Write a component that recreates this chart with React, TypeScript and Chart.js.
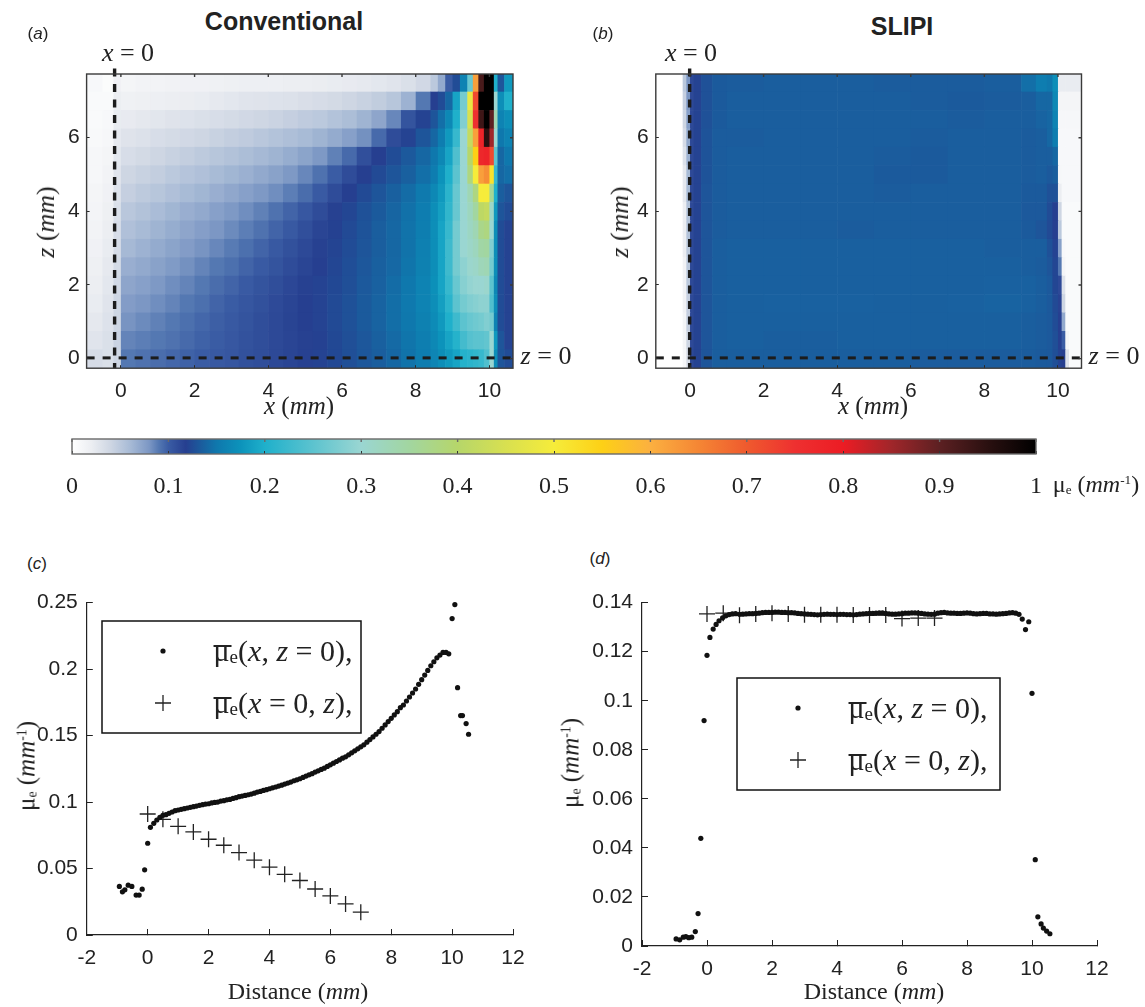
import React, { useEffect, useRef } from "react";
import { Chart, registerables } from "chart.js";

Chart.register(...registerables);

// ---------- colour scale ----------
const colorLevels = [0, 0.02, 0.04, 0.06, 0.08, 0.09, 0.1, 0.118, 0.135, 0.15, 0.175, 0.2, 0.25, 0.3, 0.35, 0.4, 0.45, 0.5, 0.55, 0.6, 0.65, 0.7, 0.75, 0.8, 0.85, 0.9, 0.95, 1];
const colorHexes = ["#ffffff", "#eceef2", "#ced6e3", "#a8bbd6", "#7c97c4", "#5478b2", "#3a5ca4", "#263f90", "#1a5e9e", "#0f78ad", "#0c93bb", "#1fb0cb", "#5cc3cf", "#9ad6d2", "#a2d6a0", "#b6d66a", "#d8e050", "#f6ec3a", "#fdd016", "#fbb040", "#f58634", "#ef5a2e", "#ee3030", "#ec1c24", "#a0262a", "#5c2022", "#2a1010", "#000000"];
const colorbarTicks = [0, 0.1, 0.2, 0.3, 0.4, 0.5, 0.6, 0.7, 0.8, 0.9, 1];

// ---------- heat maps ----------
const xTicksMap = [0, 2, 4, 6, 8, 10];
const zTicksMap = [0, 2, 4, 6];
const zCenters = [7.5, 7, 6.5, 6, 5.5, 5, 4.5, 4, 3.5, 3, 2.5, 2, 1.5, 1, 0.5, 0];

const heatAEdges = [-0.93, -0.5, -0.2, 0, 0.4, 0.8, 1.2, 1.6, 2, 2.4, 2.8, 3.2, 3.6, 4, 4.4, 4.8, 5.2, 5.6, 6, 6.4, 6.8, 7.2, 7.6, 8, 8.4, 8.6, 8.8, 9, 9.2, 9.4, 9.55, 9.7, 9.85, 10, 10.12, 10.22, 10.4, 10.64];
const heatARows = [
  [.008, .004, .016, .012, .014, .014, .015, .016, .016, .017, .018, .019, .019, .019, .02, .02, .021, .022, .023, .024, .026, .028, .032, .038, .05, .07, .1, .125, .16, .26, .62, .92, 1, 1, .2, .13, .18],
  [.006, .006, .02, .017, .018, .019, .02, .021, .022, .024, .026, .028, .029, .03, .031, .033, .035, .037, .04, .043, .047, .052, .065, .09, .118, .125, .14, .19, .27, .48, .72, 1, 1, 1, .3, .17, .2],
  [.006, .008, .022, .023, .025, .027, .029, .03, .032, .034, .036, .038, .04, .042, .045, .048, .05, .054, .058, .064, .072, .085, .105, .12, .13, .145, .165, .2, .28, .45, .75, .93, 1, .9, .33, .16, .17],
  [.007, .01, .024, .029, .031, .034, .036, .038, .04, .043, .046, .048, .051, .054, .057, .06, .064, .069, .075, .082, .095, .11, .12, .13, .14, .155, .18, .22, .3, .42, .62, .78, .95, .85, .3, .15, .16],
  [.009, .012, .026, .034, .037, .04, .043, .046, .049, .052, .055, .058, .061, .064, .068, .073, .079, .087, .095, .108, .118, .125, .132, .14, .15, .165, .19, .24, .3, .4, .55, .77, .78, .72, .25, .14, .15],
  [.01, .014, .028, .04, .043, .046, .05, .053, .056, .06, .063, .066, .07, .074, .079, .085, .092, .1, .11, .118, .124, .13, .136, .145, .155, .175, .2, .25, .3, .38, .5, .62, .64, .52, .22, .14, .145],
  [.012, .016, .03, .045, .049, .052, .056, .06, .063, .067, .071, .075, .079, .083, .088, .094, .101, .11, .118, .124, .13, .136, .143, .152, .165, .18, .21, .26, .3, .33, .38, .5, .5, .36, .2, .135, .13],
  [.013, .018, .032, .051, .055, .059, .063, .067, .07, .075, .079, .083, .087, .092, .097, .103, .11, .117, .122, .128, .133, .139, .146, .155, .17, .185, .215, .26, .3, .32, .35, .41, .42, .31, .18, .13, .125],
  [.014, .02, .034, .056, .06, .064, .068, .072, .076, .08, .084, .088, .092, .097, .102, .108, .114, .119, .124, .129, .135, .14, .147, .156, .17, .19, .22, .27, .3, .315, .33, .37, .38, .3, .17, .125, .12],
  [.016, .022, .035, .061, .065, .069, .073, .077, .081, .085, .089, .093, .097, .102, .107, .112, .117, .121, .125, .13, .135, .14, .147, .157, .17, .19, .225, .27, .3, .31, .32, .345, .35, .28, .17, .125, .12],
  [.018, .024, .036, .067, .07, .074, .078, .082, .086, .09, .093, .097, .101, .105, .11, .114, .118, .122, .126, .131, .136, .141, .148, .158, .17, .19, .225, .27, .29, .305, .31, .325, .33, .27, .17, .125, .12],
  [.02, .026, .038, .072, .075, .079, .083, .086, .09, .094, .097, .101, .105, .109, .113, .117, .12, .123, .127, .132, .137, .143, .15, .16, .172, .19, .22, .26, .285, .295, .3, .3, .305, .25, .165, .125, .12],
  [.022, .028, .04, .077, .08, .083, .086, .09, .093, .097, .1, .104, .107, .111, .114, .118, .12, .124, .128, .133, .138, .144, .151, .16, .17, .185, .21, .25, .27, .28, .285, .29, .29, .24, .17, .125, .12],
  [.025, .03, .04, .081, .084, .087, .09, .093, .096, .099, .102, .105, .109, .112, .115, .118, .12, .124, .128, .133, .138, .144, .15, .158, .168, .18, .2, .225, .25, .26, .265, .27, .28, .27, .16, .125, .12],
  [.028, .032, .042, .086, .088, .09, .092, .095, .098, .1, .103, .106, .109, .112, .114, .117, .119, .123, .127, .131, .136, .142, .148, .156, .165, .175, .19, .205, .23, .245, .25, .25, .255, .3, .18, .13, .12],
  [.035, .032, .04, .09, .092, .094, .096, .098, .1, .102, .104, .107, .109, .112, .114, .117, .12, .123, .127, .131, .135, .14, .147, .155, .162, .17, .18, .19, .205, .21, .215, .22, .24, .3, .17, .13, .125],
];

const heatBEdges = [-0.93, -0.2, -0.1, 0, 0.1, 0.3, 0.6, 1, 2, 3, 4, 5, 6, 7, 8, 9, 9.4, 9.7, 9.85, 10, 10.1, 10.2, 10.3, 10.64];
const heatBRows = [
  [0, .05, .08, .112, .12, .128, .133, .134, .135, .135, .135, .134, .134, .134, .135, .145, .155, .15, .17, .022, .022, .022, .022],
  [0, .045, .08, .112, .12, .128, .133, .135, .135, .135, .135, .135, .134, .133, .134, .135, .14, .14, .165, .012, .012, .012, .012],
  [0, .04, .075, .112, .12, .128, .133, .135, .135, .135, .135, .135, .135, .134, .135, .135, .138, .14, .16, .01, .01, .01, .01],
  [0, .035, .07, .112, .12, .129, .134, .134, .135, .135, .135, .135, .134, .135, .135, .134, .135, .14, .155, .008, .008, .008, .008],
  [0, .03, .065, .112, .12, .129, .134, .135, .135, .135, .135, .134, .133, .135, .135, .134, .135, .135, .14, .008, .008, .008, .008],
  [0, .025, .06, .112, .12, .129, .134, .135, .135, .135, .135, .133, .133, .135, .135, .134, .135, .132, .135, .01, .008, .008, .008],
  [0, .025, .06, .112, .12, .13, .134, .135, .135, .135, .135, .134, .135, .135, .135, .133, .133, .128, .128, .02, .008, .008, .008],
  [0, .02, .055, .112, .12, .13, .134, .135, .135, .135, .135, .135, .135, .135, .135, .132, .132, .125, .118, .04, .006, .006, .006],
  [0, .02, .055, .112, .12, .13, .134, .135, .135, .135, .134, .135, .135, .135, .135, .133, .13, .124, .118, .05, .006, .006, .006],
  [0, .02, .05, .112, .12, .13, .135, .136, .136, .136, .136, .136, .136, .136, .135, .135, .135, .128, .12, .075, .008, .006, .006],
  [0, .015, .05, .112, .12, .13, .135, .136, .136, .136, .136, .136, .136, .136, .136, .135, .134, .13, .122, .09, .012, .006, .006],
  [0, .015, .05, .112, .12, .13, .135, .136, .136, .136, .136, .136, .136, .136, .137, .137, .135, .132, .122, .112, .03, .006, .006],
  [0, .015, .045, .112, .12, .13, .135, .136, .137, .137, .137, .136, .136, .137, .138, .137, .135, .132, .124, .116, .04, .006, .006],
  [0, .012, .045, .112, .12, .13, .135, .136, .136, .136, .136, .136, .136, .136, .136, .135, .134, .132, .125, .118, .07, .006, .006],
  [0, .012, .04, .112, .12, .13, .135, .136, .135, .135, .136, .136, .136, .136, .136, .135, .134, .132, .127, .118, .1, .012, .006],
  [0, .01, .035, .112, .12, .13, .135, .135, .135, .135, .135, .135, .134, .134, .134, .134, .133, .132, .127, .12, .118, .03, .006],
];

const dashXa = [-0.17, -0.17];
const dashXb = [-0.01, -0.01];
const dashZSpan = [7.88, -0.26];
const dashZx = [-0.93, 10.64];
const dashZy = [0.02, 0.02];

// ---------- panel (c) ----------
const xTicksPlot = [-2, 0, 2, 4, 6, 8, 10, 12];
const yTicksC = [0, 0.05, 0.1, 0.15, 0.2, 0.25];
const yTicksD = [0, 0.02, 0.04, 0.06, 0.08, 0.1, 0.12, 0.14];

const cDotX = [-0.93, -0.83, -0.75, -0.64, -0.52, -0.38, -0.28, -0.18, -0.1, 0, 0.09, 0.2, 0.3, 0.4, 0.5, 0.6, 0.7, 0.8, 0.9, 1, 1.1, 1.2, 1.3, 1.4, 1.5, 1.6, 1.7, 1.8, 1.9, 2, 2.1, 2.2, 2.3, 2.4, 2.5, 2.6, 2.7, 2.8, 2.9, 3, 3.1, 3.2, 3.3, 3.4, 3.5, 3.6, 3.7, 3.8, 3.9, 4, 4.1, 4.2, 4.3, 4.4, 4.5, 4.6, 4.7, 4.8, 4.9, 5, 5.1, 5.2, 5.3, 5.4, 5.5, 5.6, 5.7, 5.8, 5.9, 6, 6.1, 6.2, 6.3, 6.4, 6.5, 6.6, 6.7, 6.8, 6.9, 7, 7.1, 7.2, 7.3, 7.4, 7.5, 7.6, 7.7, 7.8, 7.9, 8, 8.1, 8.2, 8.3, 8.4, 8.5, 8.6, 8.7, 8.8, 8.9, 9, 9.1, 9.2, 9.3, 9.4, 9.5, 9.6, 9.7, 9.8, 9.89, 10, 10.09, 10.18, 10.28, 10.34, 10.46, 10.54];
const cDotY = [.0365, .0325, .034, .0375, .0365, .030, .030, .0345, .049, .069, .081, .084, .0865, .0885, .09, .0905, .0915, .0925, .0935, .094, .0945, .095, .0955, .096, .0965, .097, .0975, .098, .0985, .0987, .0993, .0997, .1, .1007, .101, .1017, .102, .1027, .1033, .104, .1045, .105, .1055, .106, .1067, .1075, .108, .1087, .1093, .11, .1107, .1113, .112, .1127, .1135, .1143, .115, .116, .1167, .1175, .1185, .1195, .1205, .1213, .1225, .1235, .1245, .1255, .1268, .128, .1292, .1305, .1317, .133, .134, .1355, .137, .1385, .14, .1415, .143, .145, .147, .149, .151, .153, .1555, .158, .1605, .163, .1655, .168, .171, .173, .176, .179, .182, .185, .1885, .192, .1955, .199, .2025, .2055, .2085, .2105, .2125, .2125, .2115, .238, .2485, .186, .165, .165, .159, .151];
const cCrossX = [0, 0.5, 1, 1.5, 2, 2.5, 3, 3.5, 4, 4.5, 5, 5.5, 6, 6.5, 7];
const cCrossY = [.091, .087, .0817, .0775, .072, .0675, .062, .0563, .051, .0456, .041, .0346, .0294, .0234, .0172];

// ---------- panel (d) ----------
const dDotX = [-0.95, -0.84, -0.73, -0.65, -0.56, -0.47, -0.36, -0.275, -0.19, -0.09, 0, 0.09, 0.19, 0.28, 0.37, 0.48, 0.58, 0.68, 0.78, 0.88, 1, 1.1, 1.2, 1.3, 1.4, 1.5, 1.6, 1.7, 1.8, 1.9, 2, 2.1, 2.2, 2.3, 2.4, 2.5, 2.6, 2.7, 2.8, 2.9, 3, 3.1, 3.2, 3.3, 3.4, 3.5, 3.6, 3.7, 3.8, 3.9, 4, 4.1, 4.2, 4.3, 4.4, 4.5, 4.6, 4.7, 4.8, 4.9, 5, 5.1, 5.2, 5.3, 5.4, 5.5, 5.6, 5.7, 5.8, 5.9, 6, 6.1, 6.2, 6.3, 6.4, 6.5, 6.6, 6.7, 6.8, 6.9, 7, 7.1, 7.2, 7.3, 7.4, 7.5, 7.6, 7.7, 7.8, 7.9, 8, 8.1, 8.2, 8.3, 8.4, 8.5, 8.6, 8.7, 8.8, 8.9, 9, 9.1, 9.2, 9.3, 9.4, 9.5, 9.6, 9.7, 9.8, 9.9, 10, 10.1, 10.18, 10.28, 10.35, 10.45, 10.55];
const dDotY = [.0029, .0025, .0036, .0038, .0034, .0036, .0059, .0132, .0439, .0919, .1185, .1258, .1292, .1311, .1326, .1338, .1346, .1351, .1354, .1355, .1352, .1353, .1354, .1355, .1355, .1356, .1357, .1359, .136, .136, .136, .1361, .1361, .136, .136, .1359, .1359, .1358, .1356, .1355, .1354, .1353, .1352, .1351, .135, .1351, .1352, .1353, .1352, .1352, .1351, .1352, .1352, .1351, .1351, .135, .1351, .1353, .1354, .1355, .1356, .1356, .1357, .1358, .1358, .1356, .1354, .1353, .1353, .1354, .1355, .1357, .1357, .1358, .1358, .1357, .1356, .1354, .1353, .1352, .1353, .1357, .1359, .136, .1358, .1357, .1357, .1356, .1356, .1357, .1358, .1357, .1355, .1354, .1355, .1356, .1356, .1354, .1354, .1353, .1354, .1355, .1356, .1358, .1359, .1357, .1352, .1333, .129, .1322, .103, .0352, .0119, .009, .0073, .0061, .005];
const dCrossX = [0, 0.5, 1, 1.5, 2, 2.5, 3, 3.5, 4, 4.5, 5, 5.5, 6, 6.5, 7];
const dCrossY = [.1354, .1357, .1348, .1354, .1357, .1354, .135, .135, .135, .1349, .1349, .1349, .1335, .1337, .1337];

// ---------- shared helpers ----------
const TICK_FONT = "'Liberation Sans', Arial, sans-serif";
const SERIF = "'Liberation Serif', 'Times New Roman', serif";
const INK = "#222222";

function hexToRgb(h: string) {
  return [parseInt(h.slice(1, 3), 16), parseInt(h.slice(3, 5), 16), parseInt(h.slice(5, 7), 16)];
}
function colorFor(v: number) {
  for (let i = 1; i < colorLevels.length; i++) {
    if (v <= colorLevels[i]) {
      const t = (v - colorLevels[i - 1]) / (colorLevels[i] - colorLevels[i - 1]);
      const a = hexToRgb(colorHexes[i - 1]);
      const b = hexToRgb(colorHexes[i]);
      return `rgb(${a.map((c, k) => Math.round(c + (b[k] - c) * t)).join(",")})`;
    }
  }
  return colorHexes[colorHexes.length - 1];
}

const heatPlugin = {
  id: "heatCells",
  beforeDatasetsDraw(chart: any) {
    const { ctx, chartArea, scales } = chart;
    ctx.save();
    ctx.beginPath();
    ctx.rect(chartArea.left, chartArea.top, chartArea.right - chartArea.left, chartArea.bottom - chartArea.top);
    ctx.clip();
    chart.data.datasets.forEach((ds: any) => {
      if (!ds.isHeat) return;
      ds.data.forEach((c: any) => {
        const x0 = scales.x.getPixelForValue(c.x0);
        const x1 = scales.x.getPixelForValue(c.x1);
        const y0 = scales.y.getPixelForValue(c.y + 0.25);
        const y1 = scales.y.getPixelForValue(c.y - 0.25);
        ctx.fillStyle = colorFor(c.v);
        ctx.fillRect(x0, y0, x1 - x0 + 0.6, y1 - y0 + 0.6);
      });
    });
    ctx.restore();
  },
};

const mirrorTicksPlugin = {
  id: "mirrorTicks",
  afterDraw(chart: any, _a: any, opts: any) {
    if (!opts || !opts.on) return;
    const { ctx, chartArea, scales } = chart;
    ctx.save();
    ctx.strokeStyle = opts.color;
    ctx.lineWidth = opts.width;
    ctx.strokeRect(chartArea.left, chartArea.top, chartArea.right - chartArea.left, chartArea.bottom - chartArea.top);
    ctx.beginPath();
    scales.x.ticks.forEach((t: any) => {
      const p = scales.x.getPixelForValue(t.value);
      ctx.moveTo(p, chartArea.top);
      ctx.lineTo(p, chartArea.top + opts.length);
    });
    if (scales.y.options.display) {
      scales.y.ticks.forEach((t: any) => {
        const p = scales.y.getPixelForValue(t.value);
        ctx.moveTo(chartArea.right, p);
        ctx.lineTo(chartArea.right - opts.length, p);
      });
    }
    ctx.stroke();
    ctx.restore();
  },
};

const legendPlugin = {
  id: "legendBox",
  afterDraw(chart: any, _a: any, opts: any) {
    if (!opts || !opts.box) return;
    const { ctx } = chart;
    const [l, t, r, b] = opts.box;
    ctx.save();
    ctx.fillStyle = "#ffffff";
    ctx.strokeStyle = "#111111";
    ctx.lineWidth = 1.5;
    ctx.fillRect(l, t, r - l, b - t);
    ctx.strokeRect(l, t, r - l, b - t);
    ctx.fillStyle = "#111111";
    ctx.beginPath();
    ctx.arc(opts.mx, opts.dotY, 2.6, 0, Math.PI * 2);
    ctx.fill();
    ctx.lineWidth = 1.3;
    ctx.strokeStyle = "#222222";
    ctx.beginPath();
    ctx.moveTo(opts.mx - 8, opts.plusY);
    ctx.lineTo(opts.mx + 8, opts.plusY);
    ctx.moveTo(opts.mx, opts.plusY - 8);
    ctx.lineTo(opts.mx, opts.plusY + 8);
    ctx.stroke();
    ctx.restore();
  },
};

const colorbarPlugin = {
  id: "colorbarFill",
  beforeDatasetsDraw(chart: any) {
    const { ctx, chartArea, scales } = chart;
    const a = scales.x.getPixelForValue(0);
    const b = scales.x.getPixelForValue(1);
    const g = ctx.createLinearGradient(a, 0, b, 0);
    colorLevels.forEach((lv, i) => g.addColorStop(lv, colorHexes[i]));
    ctx.fillStyle = g;
    ctx.fillRect(chartArea.left, chartArea.top, chartArea.right - chartArea.left, chartArea.bottom - chartArea.top);
  },
};

function fixedAxis(o: any, size: number, isX: boolean, tickValues: number[], extra: any = {}) {
  return {
    type: "linear",
    ...o,
    afterBuildTicks: (s: any) => {
      s.ticks = tickValues.map((v) => ({ value: v }));
    },
    afterFit: (s: any) => {
      if (isX) s.height = size;
      else s.width = size;
    },
    ...extra,
  };
}

function heatDataset(edges: number[], rows: number[][]) {
  const cells: any[] = [];
  rows.forEach((row, r) => {
    row.forEach((v, c) => {
      cells.push({ x: (edges[c] + edges[c + 1]) / 2, y: zCenters[r], x0: edges[c], x1: edges[c + 1], v });
    });
  });
  return { isHeat: true, data: cells, pointRadius: 0, showLine: false };
}

function xy(xs: number[], ys: number[]) {
  return xs.map((x, i) => ({ x, y: ys[i] }));
}

function heatConfig(edges: number[], rows: number[][], dashX: number[], padding: any, leftW: number) {
  const ink = "#2a2a2a";
  return {
    type: "scatter",
    data: {
      datasets: [
        heatDataset(edges, rows),
        { data: xy(dashX, dashZSpan), showLine: true, pointRadius: 0, borderColor: "#1c1c1c", borderWidth: 3.4, borderDash: [8, 7.5], clip: false },
        { data: xy(dashZx, dashZy), showLine: true, pointRadius: 0, borderColor: "#1c1c1c", borderWidth: 3, borderDash: [8, 8], clip: false },
      ],
    },
    options: {
      animation: false,
      responsive: false,
      layout: { padding },
      plugins: { legend: { display: false }, tooltip: { enabled: false }, mirrorTicks: { on: true, color: "#3a3a3a", width: 1.4, length: 3 } },
      scales: {
        x: fixedAxis(
          {
            min: edges[0],
            max: edges[edges.length - 1],
            grid: { drawOnChartArea: false, drawTicks: true, tickLength: -3, color: ink, z: 1 },
            border: { display: false },
            ticks: { color: INK, font: { family: TICK_FONT, size: 21 }, padding: 13, maxRotation: 0, autoSkip: false, callback: (v: number) => String(v) },
          },
          40,
          true,
          xTicksMap
        ),
        y: fixedAxis(
          {
            min: -0.26,
            max: 7.73,
            grid: { drawOnChartArea: false, drawTicks: true, tickLength: -3, color: ink, z: 1 },
            border: { display: false },
            ticks: { color: INK, font: { family: TICK_FONT, size: 21 }, padding: 10, autoSkip: false, callback: (v: number) => String(v) },
          },
          leftW,
          false,
          zTicksMap
        ),
      },
    },
    plugins: [heatPlugin, mirrorTicksPlugin],
  };
}

function plotConfig(dX: number[], dY: number[], cX: number[], cY: number[], yMax: number, yTicks: number[], padding: any, leftW: number, bottomH: number, legend: any, xPad: number) {
  return {
    type: "scatter",
    data: {
      datasets: [
        { data: xy(dX, dY), pointRadius: 2.6, pointBackgroundColor: "#111111", pointBorderWidth: 0, showLine: false, clip: false },
        { data: xy(cX, cY), pointStyle: "cross", pointRadius: 8, pointBorderColor: "#222222", pointBorderWidth: 1.3, pointBackgroundColor: "#222222", showLine: false, clip: false },
      ],
    },
    options: {
      animation: false,
      responsive: false,
      layout: { padding },
      plugins: { legend: { display: false }, tooltip: { enabled: false }, legendBox: legend },
      scales: {
        x: fixedAxis(
          {
            min: -2,
            max: 12,
            grid: { drawOnChartArea: false, drawTicks: true, tickLength: -6, color: "#222222" },
            border: { color: "#222222", width: 1.2 },
            ticks: { color: INK, font: { family: TICK_FONT, size: 21 }, padding: xPad, maxRotation: 0, autoSkip: false, callback: (v: number) => String(v) },
          },
          bottomH,
          true,
          xTicksPlot
        ),
        y: fixedAxis(
          {
            min: 0,
            max: yMax,
            grid: { drawOnChartArea: false, drawTicks: true, tickLength: -6, color: "#222222" },
            border: { color: "#222222", width: 1.2 },
            ticks: { color: INK, font: { family: TICK_FONT, size: 21 }, padding: 15, autoSkip: false, callback: (v: number) => String(v) },
          },
          leftW,
          false,
          yTicks
        ),
      },
    },
    plugins: [legendPlugin],
  };
}

function colorbarConfig() {
  return {
    type: "scatter",
    data: { datasets: [{ data: colorLevels.map((x) => ({ x, y: 0.5 })), pointRadius: 0, showLine: false }] },
    options: {
      animation: false,
      responsive: false,
      layout: { padding: { left: 72, right: 109, top: 14, bottom: 0 } },
      plugins: { legend: { display: false }, tooltip: { enabled: false }, mirrorTicks: { on: true, color: "#6a6a6a", width: 1.4, length: 3 } },
      scales: {
        x: fixedAxis(
          {
            min: 0,
            max: 1,
            grid: { drawOnChartArea: false, drawTicks: true, tickLength: -3, color: "#333333", z: 1 },
            border: { display: false },
            ticks: { color: INK, font: { family: SERIF, size: 24 }, padding: 21, maxRotation: 0, autoSkip: false, callback: (v: number) => String(v) },
          },
          46,
          true,
          colorbarTicks
        ),
        y: { display: false, min: 0, max: 1 },
      },
    },
    plugins: [colorbarPlugin, mirrorTicksPlugin],
  };
}

const boxes = [
  { left: 0, top: 40, width: 560, height: 370 },
  { left: 570, top: 40, width: 575, height: 370 },
  { left: 0, top: 425, width: 1145, height: 75 },
  { left: 0, top: 575, width: 560, height: 432 },
  { left: 560, top: 575, width: 585, height: 432 },
];

function buildConfigs(): any[] {
  return [
    heatConfig(heatAEdges, heatARows, dashXa, { left: 0, top: 34, right: 47, bottom: 1.8 }, 86.6),
    heatConfig(heatBEdges, heatBRows, dashXb, { left: 0, top: 34, right: 63.5, bottom: 1.8 }, 85.8),
    colorbarConfig(),
    plotConfig(cDotX, cDotY, cCrossX, cCrossY, 0.25, yTicksC, { left: 0, top: 26, right: 47, bottom: 12 }, 86.8, 60, { box: [102, 46, 361, 158], mx: 163, dotY: 76, plusY: 128 }, 17),
    plotConfig(dDotX, dDotY, dCrossX, dCrossY, 0.14, yTicksD, { left: 0, top: 13, right: 48, bottom: 11 }, 82, 50, { box: [177, 103, 440, 215], mx: 238, dotY: 133, plusY: 185 }, 17),
  ];
}

const Txt = ({ x, y, rot, style, children }: any) => (
  <div
    style={{
      position: "absolute",
      left: x,
      top: y,
      transform: `translate(-50%,-50%)${rot ? ` rotate(${rot}deg)` : ""}`,
      whiteSpace: "nowrap",
      lineHeight: 1,
      color: INK,
      ...style,
    }}
  >
    {children}
  </div>
);

const serif = (size: number) => ({ fontFamily: SERIF, fontSize: size });
const sans = (size: number) => ({ fontFamily: TICK_FONT, fontSize: size });

const MuUnit = ({ size }: { size: number }) => (
  <span>
    μ<sub style={{ fontSize: size * 0.55, verticalAlign: "-0.15em", lineHeight: 0 }}>e</sub> (<i>mm</i>
    <sup style={{ fontSize: size * 0.55, verticalAlign: "0.6em", lineHeight: 0 }}>-1</sup>)
  </span>
);

const MapAxisX = () => (
  <span>
    <i>x</i> (<i>mm</i>)
  </span>
);
const MapAxisZ = () => (
  <span>
    <i>z</i> (<i>mm</i>)
  </span>
);
const Dist = () => (
  <span>
    Distance (<i>mm</i>)
  </span>
);
const BarMu = () => (
  <span style={{ position: "relative", display: "inline-block" }}>
    μ
    <span style={{ position: "absolute", left: 0, right: -2, top: "0.3em", height: 1.5, background: INK }} />
  </span>
);
const LegendA = () => (
  <span>
    <BarMu />
    <sub style={{ fontSize: 19, verticalAlign: "-0.1em", lineHeight: 0 }}>e</sub>(<i>x</i>, <i>z</i> = 0),
  </span>
);
const LegendB = () => (
  <span>
    <BarMu />
    <sub style={{ fontSize: 19, verticalAlign: "-0.1em", lineHeight: 0 }}>e</sub>(<i>x</i> = 0, <i>z</i>),
  </span>
);

export default function App() {
  const refs = useRef<(HTMLCanvasElement | null)[]>([]);
  useEffect(() => {
    const configs = buildConfigs();
    const charts = configs.map((cfg, i) => new Chart(refs.current[i] as HTMLCanvasElement, cfg));
    return () => charts.forEach((c) => c.destroy());
  }, []);

  return (
    <div style={{ position: "absolute", left: 0, top: 0, width: 1145, height: 1007, overflow: "hidden", background: "#fff" }}>
      {boxes.map((b, i) => (
        <canvas
          key={i}
          ref={(el) => {
            refs.current[i] = el;
          }}
          width={b.width}
          height={b.height}
          style={{ position: "absolute", left: b.left, top: b.top, width: b.width, height: b.height }}
        />
      ))}

      <Txt x={284} y={21} style={{ ...sans(25), fontWeight: 700 }}>Conventional</Txt>
      <Txt x={902} y={26} style={{ ...sans(25), fontWeight: 700 }}>SLIPI</Txt>
      <Txt x={38} y={33} style={sans(17)}>(<i>a</i>)</Txt>
      <Txt x={603} y={33} style={sans(17)}>(<i>b</i>)</Txt>
      <Txt x={37} y={563} style={sans(17)}>(<i>c</i>)</Txt>
      <Txt x={600} y={558} style={sans(17)}>(<i>d</i>)</Txt>

      <Txt x={128} y={53} style={serif(26)}><i>x</i> = 0</Txt>
      <Txt x={691} y={53} style={serif(26)}><i>x</i> = 0</Txt>
      <Txt x={546} y={356} style={serif(26)}><i>z</i> = 0</Txt>
      <Txt x={1114} y={356} style={serif(26)}><i>z</i> = 0</Txt>

      <Txt x={299} y={405} style={serif(25)}><MapAxisX /></Txt>
      <Txt x={873} y={405} style={serif(25)}><MapAxisX /></Txt>
      <Txt x={46} y={222} rot={-90} style={serif(26)}><MapAxisZ /></Txt>
      <Txt x={620} y={222} rot={-90} style={serif(26)}><MapAxisZ /></Txt>

      <Txt x={1096} y={484} style={serif(24)}><MuUnit size={24} /></Txt>

      <Txt x={298} y={991} style={serif(24)}><Dist /></Txt>
      <Txt x={874} y={991} style={serif(24)}><Dist /></Txt>
      <Txt x={26} y={766} rot={-90} style={serif(25)}><MuUnit size={25} /></Txt>
      <Txt x={570} y={763} rot={-90} style={serif(25)}><MuUnit size={25} /></Txt>

      <Txt x={283} y={651} style={serif(30)}><LegendA /></Txt>
      <Txt x={283} y={703} style={serif(30)}><LegendB /></Txt>
      <Txt x={918} y={708} style={serif(30)}><LegendA /></Txt>
      <Txt x={918} y={760} style={serif(30)}><LegendB /></Txt>
    </div>
  );
}
